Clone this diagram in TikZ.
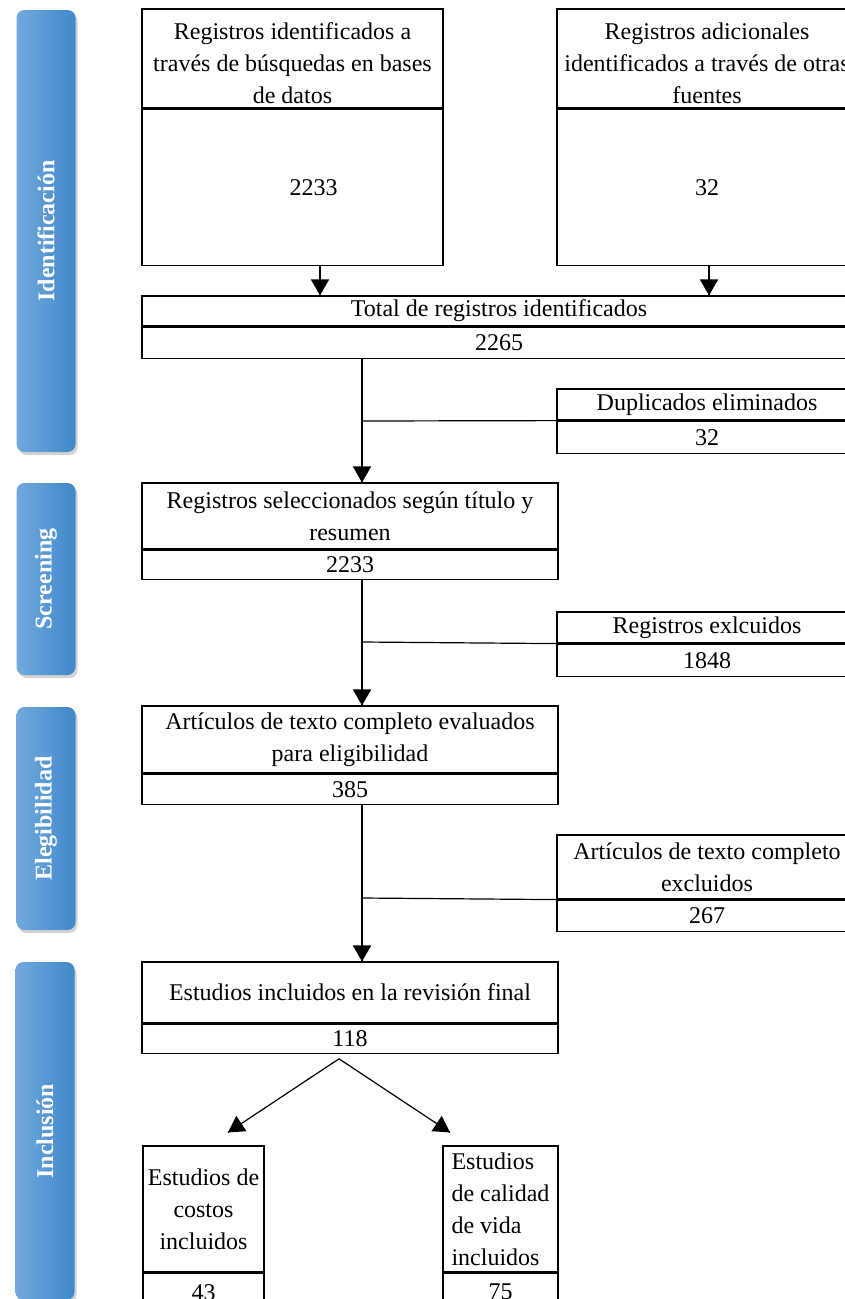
\documentclass[tikz,border=0pt]{standalone}
\usepackage{fontspec}
\setmainfont{Liberation Serif}
\usetikzlibrary{arrows}
\usetikzlibrary{decorations.markings}
\usetikzlibrary{positioning}
\usetikzlibrary{shadows}
\definecolor{phaseL}{RGB}{114,169,222}
\definecolor{phaseR}{RGB}{63,136,201}
\tikzset{arr/.style = {decoration={markings,
                                   mark=at position 1 with {\arrow[scale=2]{triangle 60}}},
                       postaction={decorate}}}
\tikzset{cell/.style = {draw, rectangle, inner sep = 0, align = center,
                        font = \fontsize{24}{32}\selectfont}}
\tikzset{phase/.style = {rectangle, rounded corners = 8pt, rotate = 90,
                         minimum height = 59pt, left color = phaseL, right color = phaseR,
                         text = white, font = \fontsize{24}{28}\selectfont\bfseries,
                         drop shadow = {opacity = 0.35, shadow xshift = 2pt, shadow yshift = -3pt}}}

\begin{document}
\begin{tikzpicture}[x = 1pt, y = -1pt, line width = 1.2pt]
      \useasboundingbox (0, 0) rectangle (844, 1299);

      % phases
      \node [phase, minimum width = 442pt] (ident) at (46, 231) {Identificación};
      \node [phase, minimum width = 192pt] (screen) at (46, 579) {Screening};
      \node [phase, minimum width = 223pt] (elig) at (46, 818.5) {Elegibilidad};
      \node [phase, minimum width = 338pt] (incl) at (45, 1131) {Inclusión};

      % identification
      \node [cell, minimum width = 301pt, minimum height = 99pt] (basesT) at (292.5, 58.5)
            {\rule{0pt}{27pt}Registros identificados a\\través de búsquedas en bases\\de datos};
      \node [cell, minimum width = 301pt, minimum height = 156pt, below = 0pt of basesT] (basesN)
            {\hspace*{42pt}2233};
      \node [cell, minimum width = 300pt, minimum height = 99pt] (otrasT) at (707, 58.5)
            {\rule{0pt}{27pt}Registros adicionales\\identificados a través de otras\\fuentes};
      \node [cell, minimum width = 300pt, minimum height = 156pt, below = 0pt of otrasT] (otrasN) {32};
      \node [cell, minimum width = 714pt, minimum height = 30pt] (totalT) at (499, 311)
            {Total de registros identificados};
      \node [cell, minimum width = 714pt, minimum height = 31pt, below = 0pt of totalT] (totalN) {2265};
      \node [cell, minimum width = 300pt, minimum height = 31pt] (dupT) at (707, 404.5)
            {Duplicados eliminados};
      \node [cell, minimum width = 300pt, minimum height = 32pt, below = 0pt of dupT] (dupN) {32};

      % screening
      \node [cell, minimum width = 416pt, minimum height = 66pt] (seleccT) at (350, 516)
            {Registros seleccionados según título y\\resumen};
      \node [cell, minimum width = 416pt, minimum height = 29pt, below = 0pt of seleccT] (seleccN) {2233};
      \node [cell, minimum width = 300pt, minimum height = 31pt] (exclT) at (707, 627.5)
            {Registros exlcuidos};
      \node [cell, minimum width = 300pt, minimum height = 32pt, below = 0pt of exclT] (exclN) {1848};

      % eligibility
      \node [cell, minimum width = 416pt, minimum height = 67pt] (evalT) at (350, 739.5)
            {Artículos de texto completo evaluados\\para eligibilidad};
      \node [cell, minimum width = 416pt, minimum height = 30pt, below = 0pt of evalT] (evalN) {385};
      \node [cell, minimum width = 300pt, minimum height = 64pt] (textoT) at (707, 867)
            {Artículos de texto completo\\excluidos};
      \node [cell, minimum width = 300pt, minimum height = 31pt, below = 0pt of textoT] (textoN) {267};

      % inclusion
      \node [cell, minimum width = 416pt, minimum height = 61pt] (finalT) at (350, 992.5)
            {Estudios incluidos en la revisión final};
      \node [cell, minimum width = 416pt, minimum height = 29pt, below = 0pt of finalT] (finalN) {118};
      \node [cell, minimum width = 121pt, minimum height = 126pt] (costosT) at (203.5, 1209)
            {Estudios de\\costos\\incluidos};
      \node [cell, minimum width = 121pt, minimum height = 38pt, below = 0pt of costosT] (costosN) {43};
      \node [cell, align = left, minimum width = 115pt, minimum height = 126pt] (calidadT) at (500.5, 1209)
            {Estudios\\de calidad\\de vida\\incluidos};
      \node [cell, minimum width = 115pt, minimum height = 38pt, below = 0pt of calidadT] (calidadN) {75};

      % connectors
      \coordinate (spine) at (362, 0);
      \draw [arr] ([xshift = 27.5pt]basesN.south) -- ([xshift = 27.5pt]basesN.south |- totalT.north);
      \draw [arr] ([xshift = 2pt]otrasN.south) -- ([xshift = 2pt]otrasN.south |- totalT.north);

      \draw [arr] (totalN.south -| spine) -- (seleccT.north -| spine);
      \coordinate (dupJ) at (362, 421);
      \draw (dupJ) -- (dupT.south west);

      \draw [arr] (seleccN.south -| spine) -- (evalT.north -| spine);
      \coordinate (exclJ) at (362, 642);
      \draw (exclJ) -- (exclT.south west);

      \draw [arr] (evalN.south -| spine) -- (finalT.north -| spine);
      \coordinate (textoJ) at (362, 898);
      \draw (textoJ) -- (textoT.south west);

      \coordinate (fork) at ([shift = {(-11, 5)}]finalN.south);
      \coordinate (costosTip) at ([shift = {(24.5, -13)}]costosT.north);
      \coordinate (calidadTip) at ([shift = {(-50.5, -13)}]calidadT.north);
      \draw [arr] (fork) -- (costosTip);
      \draw [arr] (fork) -- (calidadTip);
    \end{tikzpicture}
\end{document}
